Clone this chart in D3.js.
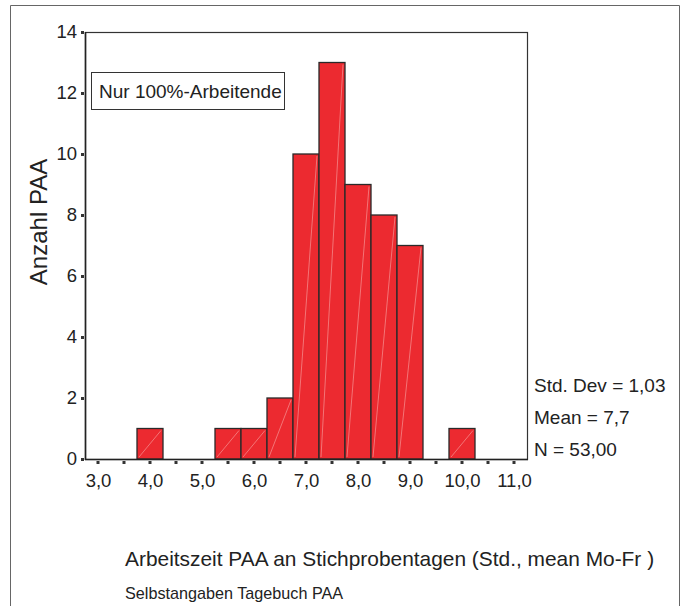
<!DOCTYPE html>
<html>
<head>
<meta charset="utf-8">
<script src="https://cdn.jsdelivr.net/npm/d3@7/dist/d3.min.js"></script>
<style>
  html, body { margin: 0; padding: 0; background: #fff; }
  svg { display: block; font-family: "Liberation Sans", Arial, sans-serif; }
</style>
</head>
<body>
<svg id="chart" width="687" height="606"></svg>
<script>
// ---- data ----
const binCenters = [3.0, 3.5, 4.0, 4.5, 5.0, 5.5, 6.0, 6.5, 7.0, 7.5, 8.0, 8.5, 9.0, 9.5, 10.0, 10.5, 11.0];
const counts     = [0,   0,   1,   0,   0,   1,   1,   2,   10,  13,  9,   8,   7,   0,   1,    0,    0];
const binWidth = 0.5;
const yTicks = [0, 2, 4, 6, 8, 10, 12, 14];
const xTickValues = [3, 4, 5, 6, 7, 8, 9, 10, 11];
const xTickLabels = ["3,0", "4,0", "5,0", "6,0", "7,0", "8,0", "9,0", "10,0", "11,0"];
const statsLines = ["Std. Dev = 1,03", "Mean = 7,7", "N = 53,00"];
const legendText = "Nur 100%-Arbeitende";
const yTitle = "Anzahl PAA";
const xTitle = "Arbeitszeit PAA an Stichprobentagen (Std., mean Mo-Fr )";
const subTitle = "Selbstangaben Tagebuch PAA";

// ---- layout ----
const svg = d3.select("#chart");
const L = 85, R = 527, T = 32, B = 459;
const x = d3.scaleLinear().domain([2.75, 11.25]).range([L, R]);
const y = d3.scaleLinear().domain([0, 14]).range([B, T]);

// outer frame
svg.append("path")
  .attr("d", "M10.5,612 V5.5 H679.5 V612")
  .attr("fill", "none").attr("stroke", "#666").attr("stroke-width", 1);

// plot frame
svg.append("rect")
  .attr("x", L + 0.5).attr("y", T + 0.5)
  .attr("width", R - L).attr("height", B - T)
  .attr("fill", "none").attr("stroke", "#333").attr("stroke-width", 1.2);

// bars
const bars = svg.append("g");
const data = binCenters.map((c, i) => ({c, n: counts[i]})).filter(d => d.n > 0);
bars.selectAll("rect.bar").data(data).enter().append("rect")
  .attr("class", "bar")
  .attr("x", d => x(d.c - binWidth / 2))
  .attr("y", d => y(d.n))
  .attr("width", d => x(d.c + binWidth / 2) - x(d.c - binWidth / 2))
  .attr("height", d => y(0) - y(d.n))
  .attr("fill", "#ec2a30")
  .attr("stroke", "#2a2a2a").attr("stroke-width", 1.3);
bars.selectAll("line.diag").data(data).enter().append("line")
  .attr("class", "diag")
  .attr("x1", d => x(d.c - binWidth / 2) + 2)
  .attr("y1", y(0) - 2)
  .attr("x2", d => x(d.c + binWidth / 2) - 2)
  .attr("y2", d => y(d.n) + 2)
  .attr("stroke", "#f7a0a0").attr("stroke-width", 0.8).attr("opacity", 0.8);

// y axis
const yAxis = svg.append("g").attr("transform", `translate(${L},0)`)
  .call(d3.axisLeft(y).tickValues(yTicks).tickSize(0).tickPadding(8).tickFormat(d3.format("d")));
yAxis.select(".domain").remove();
yAxis.selectAll("text").attr("font-size", 18.5).attr("fill", "#222")
  .attr("font-family", "Liberation Sans, Arial, sans-serif");
yAxis.selectAll(".tick").append("rect")
  .attr("x", -4).attr("y", -1.5).attr("width", 3).attr("height", 3).attr("fill", "#333");
svg.append("line").attr("x1", L + 0.5).attr("x2", L + 0.5).attr("y1", T).attr("y2", B + 1)
  .attr("stroke", "#222").attr("stroke-width", 1.6);

// x axis
const xAxis = svg.append("g").attr("transform", `translate(0,${B})`)
  .call(d3.axisBottom(x).tickValues(xTickValues).tickSize(0).tickPadding(15)
    .tickFormat((d, i) => xTickLabels[i]));
xAxis.select(".domain").remove();
xAxis.selectAll("text").attr("font-size", 18.5).attr("fill", "#222")
  .attr("font-family", "Liberation Sans, Arial, sans-serif");
svg.append("g").selectAll("rect").data(binCenters).enter().append("rect")
  .attr("x", d => x(d) - 1.5).attr("y", B + 2).attr("width", 3).attr("height", 3).attr("fill", "#333");
svg.append("line").attr("x1", L).attr("x2", R + 1).attr("y1", B + 0.5).attr("y2", B + 0.5)
  .attr("stroke", "#222").attr("stroke-width", 1.6);

// legend box
svg.append("rect").attr("x", 91.5).attr("y", 72.5).attr("width", 193).attr("height", 37)
  .attr("fill", "#fff").attr("stroke", "#333").attr("stroke-width", 1);
svg.append("text").attr("x", 99).attr("y", 98).attr("font-size", 19).attr("fill", "#222")
  .text(legendText);

// stats
svg.append("g").selectAll("text").data(statsLines).enter().append("text")
  .attr("x", 534).attr("y", (d, i) => 392 + i * 32)
  .attr("font-size", 19).attr("fill", "#222").text(d => d);

// y title
svg.append("text").attr("transform", "translate(47,222) rotate(-90)")
  .attr("text-anchor", "middle").attr("font-size", 24).attr("fill", "#222").text(yTitle);

// x title + subtitle
svg.append("text").attr("x", 125).attr("y", 566).attr("font-size", 20.9).attr("fill", "#222").text(xTitle);
svg.append("text").attr("x", 125).attr("y", 599).attr("font-size", 16.2).attr("fill", "#222").text(subTitle);
</script>
</body>
</html>
